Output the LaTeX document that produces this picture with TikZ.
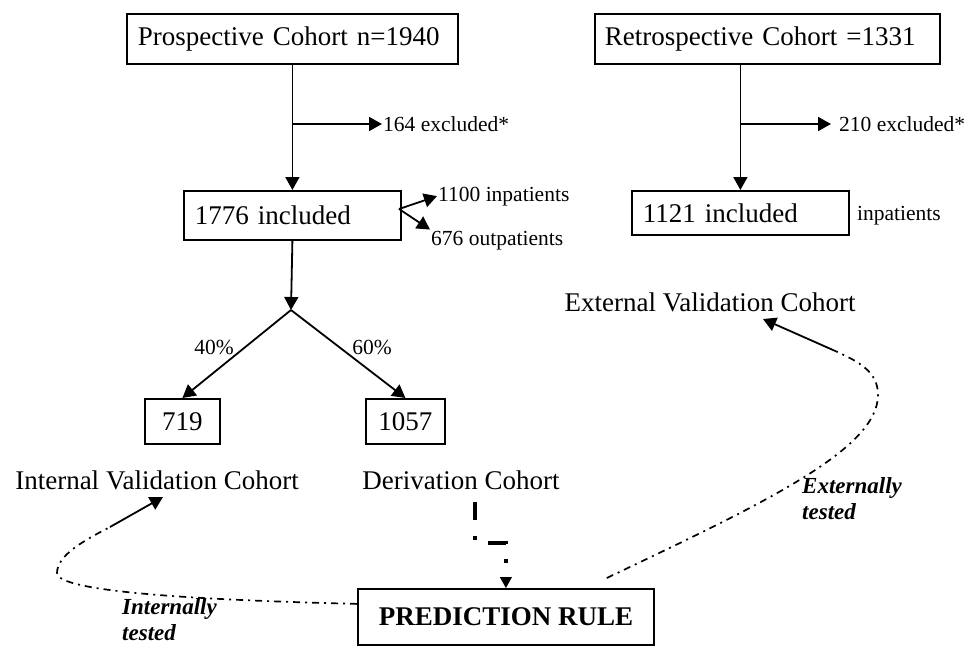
\documentclass[tikz,border=0pt]{standalone}
\usepackage{fontspec}
\setmainfont{Liberation Serif}
\usetikzlibrary{arrows.meta}
\begin{document}
\begin{tikzpicture}[x=1pt,y=-1pt,
  box/.style={draw,line width=1.8pt,inner ysep=0pt,font=\fontsize{27}{32}\selectfont},
  big/.style={font=\fontsize{27}{32}\selectfont,inner sep=0pt},
  small/.style={font=\fontsize{21.5}{25}\selectfont,inner sep=1pt},
  arr/.style={line width=1.8pt,-{Triangle[length=13pt,width=14pt]}},
  dd/.style={line width=1.7pt,dash pattern=on 7pt off 5pt on 2pt off 5pt},
  ital/.style={font=\fontsize{23}{26}\selectfont\bfseries\itshape,align=left,inner sep=0pt}]
\useasboundingbox (0,0) rectangle (968,648);

% boxes
\node[box,anchor=north west,minimum height=50pt,text width=309pt,inner xsep=11pt,align=left] (p1) at (126,13) {Prospective Cohort n=1940};
\node[box,anchor=north west,minimum height=50pt,text width=325pt,inner xsep=10pt,align=left] (r1) at (594,13) {Retrospective Cohort =1331};
\node[box,anchor=north west,minimum height=49pt,text width=195pt,inner xsep=11pt,align=left] (p2) at (183,190) {1776 included};
\node[box,anchor=north west,minimum height=44pt,text width=195pt,inner xsep=11pt,align=left] (r2) at (631,190) {1121 included};
\node[box,anchor=north west,minimum width=75pt,minimum height=45pt] (b719) at (144,398) {719};
\node[box,anchor=north west,minimum width=79pt,minimum height=45pt] (b1057) at (365,398) {1057};
\node[box,anchor=north west,minimum width=296pt,minimum height=56pt,font=\fontsize{27}{32}\selectfont\bfseries] (pr) at (357,588) {PREDICTION RULE};

% labels
\node[small,anchor=west] (ex1) at (382,124) {164 excluded*};
\node[small,anchor=west,inner xsep=8pt] (ex2) at (831,124) {210 excluded*};
\node[small,anchor=base west] (in1) at (437,201) {1100 inpatients};
\node[small,anchor=base west] (out1) at (430,245) {676 outpatients};
\node[small,anchor=base west] (ri) at (856,220) {inpatients};
\node[small] (pc40) at (214,347) {40\%};
\node[small] (pc60) at (372,347) {60\%};
\node[big] (intv) at (157,480) {Internal Validation Cohort};
\node[big] (deriv) at (461,480) {Derivation Cohort};
\node[big] (extv) at (710,302) {External Validation Cohort};
\node[ital,anchor=north west] (extt) at (802,477) {Externally\\tested};
\node[ital,anchor=north west] (intt) at (122,598) {Internally\\tested};

% prospective flow
\draw[arr] (p1.south) -- (p1.south |- p2.north);
\draw[arr] (p1.south |- ex1.west) -- (ex1.west);
\coordinate (sp) at (399,209);
\draw[arr] (sp) -- (in1.west);
\draw[arr] (sp) -- (out1.north west);
\coordinate (split) at (291,310);
\draw[arr] (p2.south) -- (split);
\draw[arr] (split) -- (b719.north);
\draw[arr] (split) -- (b1057.north);

% retrospective flow
\draw[arr] (r2.north |- r1.south) -- (r2.north);
\draw[arr] (r2.north |- ex2.west) -- (ex2.west);

% derivation -> prediction rule
\coordinate (d0) at (475,502);
\draw[line width=4.5pt,dash pattern=on 18pt off 16pt on 4pt off 16pt] (d0) -- ++(0,41) -| ([yshift=11pt]pr.north);
\draw[line width=1pt,-{Triangle[length=11pt,width=12pt]}] ([yshift=11pt]pr.north) -- (pr.north);

% internally tested
\coordinate (ia) at (110,527);
\coordinate (it) at (163,497);
\draw[dd] ([yshift=13pt]pr.west) .. controls (200,600) and (57,592) .. (57,573) .. controls (57,555) and (85,540) .. (ia);
\draw[arr] (ia) -- (it);

% externally tested
\coordinate (ea) at (833,350);
\coordinate (et) at (763,319);
\draw[dd] ([xshift=-48pt,yshift=10pt]pr.north east) .. controls (760,505) and (878,450) .. (878,395) .. controls (878,372) and (860,362) .. (ea);
\draw[arr] (ea) -- (et);
\end{tikzpicture}
\end{document}
